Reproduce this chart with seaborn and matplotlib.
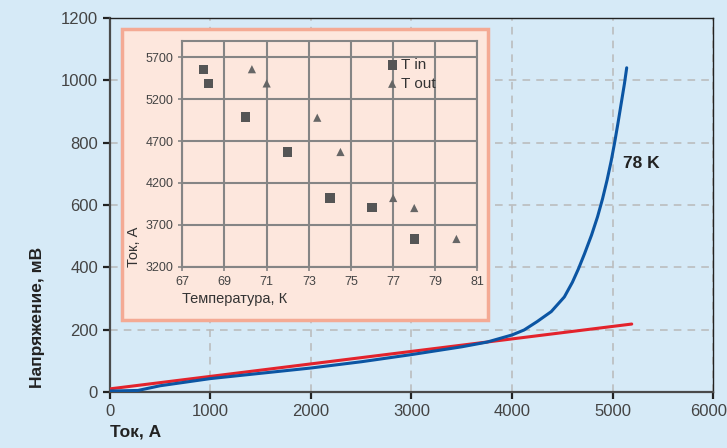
import numpy as np
import pandas as pd
import matplotlib
matplotlib.use("Agg")
import matplotlib.pyplot as plt
import matplotlib.transforms as mtrans
from matplotlib.patches import Rectangle
import seaborn as sns

# main chart: voltage vs current at 78 K
tok_vah = [0, 280, 500, 1000, 1500, 2000, 2500, 3000, 3500, 3750, 4000, 4120,
           4250, 4390, 4520, 4600, 4660, 4720, 4790, 4850, 4900, 4945, 4985,
           5020, 5052, 5085, 5118, 5140]
napr_vah = [3, 5, 20, 43, 60, 77, 97, 120, 145, 160, 183, 199,
            226, 258, 305, 352, 395, 443, 503, 562, 620, 680, 740,
            800, 860, 925, 990, 1040]
tok_line = [0, 5190]
napr_line = [10, 218]

# inset: critical current vs temperature
temp_in = [68, 68.25, 70, 72, 74, 76, 78]
tok_in = [5560, 5390, 4990, 4570, 4020, 3910, 3530]
temp_out = [70.3, 71, 73.4, 74.5, 77, 78, 80]
tok_out = [5560, 5390, 4980, 4570, 4020, 3900, 3530]

bg = "#d6eaf7"
sns.set_style("ticks", {"axes.facecolor": bg, "figure.facecolor": bg})
plt.rcParams['font.family'] = ['Liberation Sans', 'DejaVu Sans']

fig = plt.figure(figsize=(7.27, 4.48), dpi=100)
ax = fig.add_axes([0.151, 0.125, 0.830, 0.835])

df_vah = pd.DataFrame({"tok": tok_vah, "napr": napr_vah})
df_line = pd.DataFrame({"tok": tok_line, "napr": napr_line})
sns.lineplot(data=df_line, x="tok", y="napr", color="#e3232c", lw=2.2, ax=ax, zorder=3)
sns.lineplot(data=df_vah, x="tok", y="napr", color="#0b55a3", lw=2.2, ax=ax, zorder=4)

ax.set_xlim(0, 6000)
ax.set_ylim(0, 1200)
ax.set_xticks(range(0, 6001, 1000))
ax.set_yticks(range(0, 1201, 200))
ax.grid(True, ls=(0, (5, 4)), color="#b9b9b9", lw=1.1)
ax.set_axisbelow(True)
for s in ["left", "bottom"]:
    ax.spines[s].set_color("#4a4a4a")
    ax.spines[s].set_linewidth(1.6)
for s in ["top", "right"]:
    ax.spines[s].set_color("#222222")
    ax.spines[s].set_linewidth(1.0)
ax.tick_params(axis="both", colors="#222222", labelcolor="#444444",
               labelsize=12, length=5, width=1.6)
# keep the last x label inside the figure
last = ax.get_xticklabels()[-1]
last.set_transform(last.get_transform() +
                   mtrans.ScaledTranslation(-5 / 100, 0, fig.dpi_scale_trans))
ax.set_xlabel("")
ax.set_ylabel("")
ax.text(5100, 718, "78 K", fontsize=12.5, fontweight="bold", color="#222222")

fig.text(0.052, 0.134, "Напряжение, мВ", rotation=90, fontsize=12.5,
         fontweight="bold", color="#222222", ha="center", va="bottom")
fig.text(0.151, 0.018, "Ток, А", fontsize=12.5, fontweight="bold",
         color="#222222", ha="left", va="bottom")

# inset box
box = Rectangle((0.168, 0.286), 0.503, 0.649, transform=fig.transFigure,
                facecolor="#fde7dd", edgecolor="#f4aa94", lw=2.5, zorder=1)
fig.add_artist(box)

ins = fig.add_axes([0.2508, 0.405, 0.406, 0.504])
ins.set_zorder(2)
ins.set_facecolor("#fde7dd")
sns.scatterplot(x=temp_in, y=tok_in, marker="s", color="#555555", s=45,
                edgecolor="none", label="T in", ax=ins, zorder=3)
sns.scatterplot(x=temp_out, y=tok_out, marker="^", color="#666666", s=35,
                edgecolor="none", label="T out", ax=ins, zorder=3)
ins.set_xlim(67, 81)
ins.set_ylim(3200, 5900)
ins.set_xticks(range(67, 82, 2))
ins.set_yticks(range(3200, 5701, 500))
ins.grid(True, color="#858585", lw=1.5)
for s in ins.spines.values():
    s.set_color("#858585")
    s.set_linewidth(1.5)
ins.tick_params(axis="both", colors="#858585", labelcolor="#444444",
                labelsize=9, length=3, width=1.2)
ins.set_xlabel("Температура, К", fontsize=10.5, color="#333333", loc="left",
               labelpad=3)
ins.set_ylabel("Ток, А", fontsize=10.5, color="#333333", loc="bottom",
               labelpad=3)
leg = ins.legend(loc="upper right", bbox_to_anchor=(0.88, 0.95), frameon=False,
                 fontsize=11, handletextpad=0.1, labelspacing=0.3,
                 borderaxespad=0, handlelength=1.0)
for t in leg.get_texts():
    t.set_color("#333333")

fig.savefig("out.png", dpi=100, facecolor=bg)
